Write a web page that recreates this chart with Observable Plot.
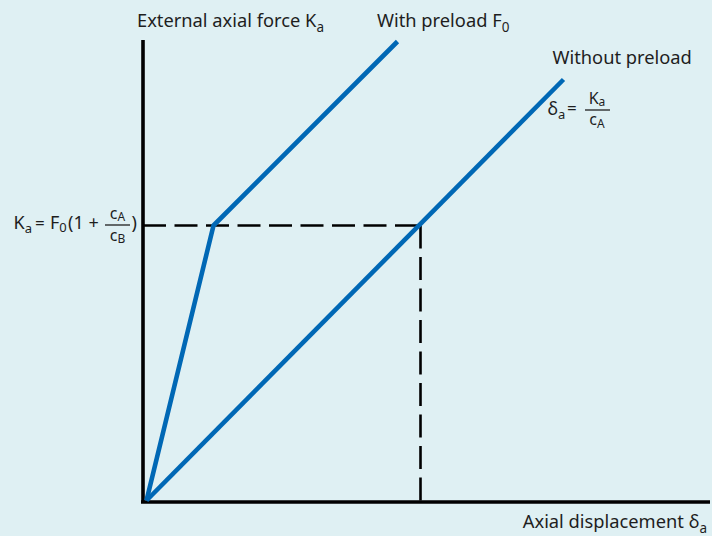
<!DOCTYPE html>
<html><head><meta charset="utf-8">
<script src="https://cdn.jsdelivr.net/npm/d3@7"></script>
<script src="https://cdn.jsdelivr.net/npm/@observablehq/plot@0.6"></script>
<style>
html,body{margin:0;padding:0;background:#dff0f3;}
#chart svg{display:block;}
</style></head><body><div id="chart"></div>
<script>
// --- data (arbitrary units, 1 unit = 50 px) ---
const preloadX = [0, 1.34, 5.02];
const preloadY = [0, 5.5, 9.18];
const noPreloadX = [0, 8.34];
const noPreloadY = [0, 8.42];
const kneeForce = 5.5;     // Ka = F0 (1 + cA/cB)
const kneeDisp = 5.48;     // δa reached without preload at that force
const axisOrigin = [-0.07, -0.03];
const axisEnd = [11.28, 9.2];

const blue = "#0068b5";
const ink = "#1e1e1e";

const pre = preloadX.map((x, i) => ({x, y: preloadY[i]}));
const noPre = noPreloadX.map((x, i) => ({x, y: noPreloadY[i]}));
const hDash = [{x: axisOrigin[0], y: kneeForce}, {x: kneeDisp, y: kneeForce}];
const vDash = [{x: kneeDisp, y: kneeForce}, {x: kneeDisp, y: axisOrigin[1]}];

const plot = Plot.plot({
  width: 712, height: 536, margin: 0,
  style: {background: "transparent", fontFamily: "Noto Sans"},
  x: {domain: [0, 11.3], range: [146, 711], axis: null},
  y: {domain: [0, 10], range: [500, 0], axis: null},
  marks: [
    Plot.line(hDash, {x: "x", y: "y", stroke: "#000", strokeWidth: 2.6, strokeDasharray: "23,8.5", strokeLinecap: "butt"}),
    Plot.line(vDash, {x: "x", y: "y", stroke: "#000", strokeWidth: 2.6, strokeDasharray: "23,8.5", strokeLinecap: "butt"}),
    Plot.ruleX([axisOrigin[0]], {y1: axisOrigin[1] - 0.03, y2: axisEnd[1], stroke: "#000", strokeWidth: 3.6}),
    Plot.ruleY([axisOrigin[1]], {x1: axisOrigin[0] - 0.03, x2: axisEnd[0], stroke: "#000", strokeWidth: 3.6}),
    Plot.line(noPre, {x: "x", y: "y", stroke: blue, strokeWidth: 4.6, strokeLinecap: "butt", strokeLinejoin: "miter"}),
    Plot.line(pre, {x: "x", y: "y", stroke: blue, strokeWidth: 4.6, strokeLinecap: "butt", strokeLinejoin: "miter"})
  ]
});
document.getElementById("chart").append(plot);

// --- annotations ---
const svg = d3.select(plot);
const g = svg.append("g").attr("font-family", "Noto Sans").attr("fill", ink);
function txt(x, y, s, size, anchor) {
  return g.append("text").attr("x", x).attr("y", y).attr("font-size", size)
    .attr("text-anchor", anchor || "start").text(s);
}
function rich(x, y, parts, anchor) {
  const t = g.append("text").attr("x", x).attr("y", y).attr("text-anchor", anchor || "start");
  let shift = 0;
  parts.forEach(([s, size, off]) => {
    t.append("tspan").attr("font-size", size).attr("dy", off - shift).text(s);
    shift = off;
  });
  return t;
}
function bar(x1, x2, y) {
  g.append("line").attr("x1", x1).attr("x2", x2).attr("y1", y).attr("y2", y)
    .attr("stroke", ink).attr("stroke-width", 1.3);
}

rich(137, 27, [["External axial force K", 18.3, 0], ["a", 13.5, 5]]);
rich(377, 27, [["With preload F", 18.3, 0], ["0", 13.5, 5]]);
txt(552.5, 64, "Without preload", 18.3);

// δa = Ka / cA
rich(547.5, 115, [["δ", 18, 0], ["a", 13, 4]]);
txt(567, 114, "=", 17);
rich(597, 103.5, [["K", 16, 0], ["a", 12, 2.5]], "middle");
bar(585, 610, 110);
rich(597, 125, [["c", 16, 0], ["A", 12, 2.5]], "middle");

// Ka = F0 (1 + cA/cB)
rich(13.5, 229, [["K", 18, 0], ["a", 13, 4]]);
txt(35, 229, "=", 17);
rich(50, 229, [["F", 18, 0], ["0", 13, 3]]);
txt(68, 229, "(1 +", 18);
rich(117.5, 219, [["c", 16, 0], ["A", 12, 2]], "middle");
bar(105, 130, 225);
rich(117.5, 240.5, [["c", 16, 0], ["B", 12, 2.5]], "middle");
txt(131.5, 229, ")", 18);

rich(707, 528, [["Axial displacement δ", 18.3, 0], ["a", 13.5, 5]], "end");
</script>
</body></html>
